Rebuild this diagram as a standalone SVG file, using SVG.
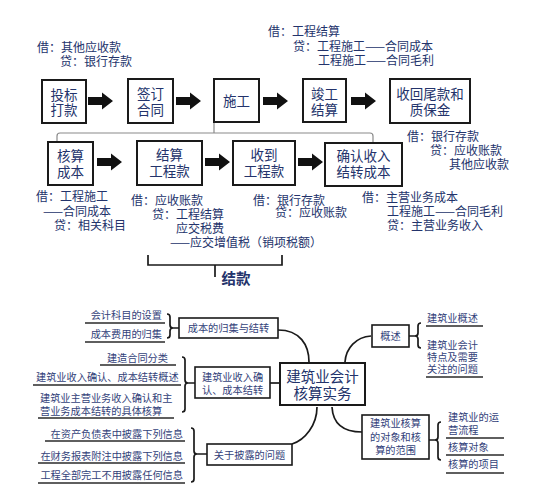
<svg xmlns="http://www.w3.org/2000/svg" width="535" height="500" viewBox="0 0 535 500">
<style>
text{font-family:"Noto Sans CJK SC","Noto Sans",sans-serif;fill:#23336b}
.bx{fill:#fff;stroke:#1a1a1a;stroke-width:2}
.bt{font-size:13.5px;text-anchor:middle}
.an{font-size:12px}
.sb{fill:#fff;stroke:#1a1a1a;stroke-width:1.6}
.s{font-size:10.2px;fill:#33427a}
.m{text-anchor:middle}
.e{text-anchor:end}
.ln{fill:none;stroke:#1a1a1a;stroke-width:1.7}
.ul{stroke:#2a2a2a;stroke-width:1.5}
.gr{fill:none;stroke:#8a8a8a;stroke-width:1.2}
</style>
<defs>
<path id="arr" d="M0,-4 H14 V-8.5 L25,0 L14,8.5 V4 H0 Z" fill="#111"/>
</defs>
<rect width="535" height="500" fill="#fff"/>

<g id="connectors">
<use href="#arr" x="88" y="101"/>
<use href="#arr" x="176" y="101"/>
<use href="#arr" x="263" y="101"/>
<use href="#arr" x="351" y="101"/>
<use href="#arr" x="97" y="162"/>
<use href="#arr" x="205" y="162"/>
<use href="#arr" x="298" y="162"/>
<path class="gr" d="M214,123 V133 M57,141 V136 Q57,133 60,133 H370 Q373,133 373,136 V142"/>
<path class="ln" d="M148,255 V265 H282 V255 M215,265 V277" stroke-width="1.8"/>
<path class="ln" d="M278,330 C300,330 309,345 309,362"/>
<path class="ln" d="M371,336 C356,337 346,348 345,362"/>
<path class="ln" d="M270,383 H280"/>
<path class="ln" d="M317,407 C317,425 305,440 292,444"/>
<path class="ln" d="M332,407 C333,425 345,432 362,432"/>
<path class="ln" d="M167,314 Q170,314 170,317 V325 Q170,328 173,328 Q170,328 170,331 V335 Q170,338 167,338 M173,328 H179"/>
<path class="ln" d="M182,357 Q185,357 185,360 V380 Q185,383 188,383 Q185,383 185,386 V409 Q185,412 182,412 M188,383 H195"/>
<path class="ln" d="M191,428 Q194,428 194,431 V451 Q194,454 197,454 Q194,454 194,457 V479 Q194,482 191,482 M197,454 H207"/>
<path class="ln" d="M441,422 Q438,422 438,425 V437 Q438,440 435,440 Q438,440 438,443 V457 Q438,460 441,460 M435,440 H426"/>
<path class="ln" d="M421,323 Q418,323 418,326 V333 Q418,336 415,336 Q418,336 418,339 V345 Q418,348 421,348 M415,336 H409"/>
</g>

<g id="ann-top">
<text class="an" font-size="12.5"><tspan x="37" y="52">借：其他应收款</tspan><tspan x="60" y="66">贷：银行存款</tspan></text>
<text class="an"><tspan x="268" y="36">借：工程结算</tspan><tspan x="293" y="51">贷：工程施工——合同成本</tspan><tspan x="318" y="65">工程施工——合同毛利</tspan></text>
<text class="an"><tspan x="407" y="141">借：银行存款</tspan><tspan x="430" y="155">贷：应收账款</tspan><tspan x="449" y="169">其他应收款</tspan></text>
<text class="an"><tspan x="36" y="201">借：工程施工</tspan><tspan x="43" y="216">——合同成本</tspan><tspan x="54" y="230">贷：相关科目</tspan></text>
<text class="an"><tspan x="131" y="205">借：应收账款</tspan><tspan x="152" y="219">贷：工程结算</tspan><tspan x="176" y="233">应交税费</tspan><tspan x="170" y="247">——应交增值税（销项税额）</tspan></text>
<text class="an"><tspan x="253" y="205">借：银行存款</tspan><tspan x="275" y="217">贷：应收账款</tspan></text>
<text class="an"><tspan x="362" y="202">借：主营业务成本</tspan><tspan x="387" y="216">工程施工——合同毛利</tspan><tspan x="387" y="230">贷：主营业务收入</tspan></text>
<text x="236" y="284" font-size="14.5" font-weight="bold" text-anchor="middle" fill="#1c2c5c">结款</text>
</g>

<g id="n-toubiao"><rect class="bx" x="42" y="80" width="44" height="43"/><text class="bt"><tspan x="64" y="100">投标</tspan><tspan x="64" y="115">打款</tspan></text></g>
<g id="n-qianding"><rect class="bx" x="128" y="79" width="45" height="44"/><text class="bt"><tspan x="150.5" y="99">签订</tspan><tspan x="150.5" y="115">合同</tspan></text></g>
<g id="n-shigong"><rect class="bx" x="214" y="79" width="45" height="43"/><text class="bt" x="236.5" y="106">施工</text></g>
<g id="n-jungong"><rect class="bx" x="303" y="79" width="43" height="43"/><text class="bt"><tspan x="324.5" y="99">竣工</tspan><tspan x="324.5" y="115">结算</tspan></text></g>
<g id="n-shouhui"><rect class="bx" x="390" y="79" width="80" height="44"/><text class="bt"><tspan x="430" y="99">收回尾款和</tspan><tspan x="430" y="115">质保金</tspan></text></g>
<g id="n-hesuan"><rect class="bx" x="48" y="142" width="45" height="43"/><text class="bt"><tspan x="70.5" y="161">核算</tspan><tspan x="70.5" y="177">成本</tspan></text></g>
<g id="n-jiesuan"><rect class="bx" x="137" y="141" width="65" height="44"/><text class="bt"><tspan x="169.5" y="160">结算</tspan><tspan x="169.5" y="176">工程款</tspan></text></g>
<g id="n-shoudao"><rect class="bx" x="233" y="141" width="62" height="44"/><text class="bt"><tspan x="264" y="160">收到</tspan><tspan x="264" y="176">工程款</tspan></text></g>
<g id="n-queren"><rect class="bx" x="325" y="143" width="77" height="43"/><text class="bt"><tspan x="363.5" y="161">确认收入</tspan><tspan x="363.5" y="177">结转成本</tspan></text></g>

<g id="n-center"><rect class="bx" x="280" y="363" width="85" height="42"/><text font-size="14.5" text-anchor="middle"><tspan x="322.5" y="382">建筑业会计</tspan><tspan x="322.5" y="399">核算实务</tspan></text></g>
<g id="n-chengben"><rect class="sb" x="179" y="318" width="99" height="20"/><text class="s m" x="228.5" y="332">成本的归集与结转</text></g>
<g id="n-gaishu"><rect class="sb" x="372" y="325" width="37" height="22"/><text class="s m" x="390.5" y="340">概述</text></g>
<g id="n-shouru"><rect class="sb" x="195" y="367" width="75" height="31"/><text class="s"><tspan x="202" y="381">建筑业收入确</tspan><tspan x="202" y="394">认、成本结转</tspan></text></g>
<g id="n-pilu"><rect class="sb" x="207" y="444" width="85" height="21"/><text class="s m" x="249.5" y="458.5">关于披露的问题</text></g>
<g id="n-duixiang"><rect class="sb" x="362" y="415" width="67" height="44"/><text class="s m"><tspan x="395.5" y="427">建筑业核算</tspan><tspan x="395.5" y="441">的对象和核</tspan><tspan x="395.5" y="454">算的范围</tspan></text></g>

<g id="leaves-chengben">
<text class="s e" x="162" y="318.5">会计科目的设置</text><line class="ul" x1="85" y1="323" x2="165" y2="323"/>
<text class="s e" x="162" y="338">成本费用的归集</text><line class="ul" x1="85" y1="342" x2="165" y2="342"/>
</g>
<g id="leaves-shouru">
<text class="s e" x="168" y="362">建造合同分类</text><line class="ul" x1="100" y1="365" x2="176" y2="365"/>
<text class="s" x="36" y="381">建筑业收入确认、成本结转概述</text><line class="ul" x1="33" y1="385" x2="181" y2="385"/>
<text class="s"><tspan x="40" y="402">建筑业主营业务收入确认和主</tspan><tspan x="40" y="415">营业务成本结转的具体核算</tspan></text><line class="ul" x1="38" y1="418" x2="174" y2="418"/>
</g>
<g id="leaves-pilu">
<text class="s e" x="183" y="438">在资产负债表中披露下列信息</text><line class="ul" x1="45" y1="441" x2="185" y2="441"/>
<text class="s e" x="183" y="460">在财务报表附注中披露下列信息</text><line class="ul" x1="38" y1="463" x2="185" y2="463"/>
<text class="s e" x="183" y="479">工程全部完工不用披露任何信息</text><line class="ul" x1="38" y1="483" x2="185" y2="483"/>
</g>
<g id="leaves-gaishu">
<text class="s" x="427" y="322">建筑业概述</text><line class="ul" x1="426" y1="326" x2="483" y2="326"/>
<text class="s"><tspan x="427" y="349">建筑业会计</tspan><tspan x="427" y="361">特点及需要</tspan><tspan x="427" y="373">关注的问题</tspan></text><line class="ul" x1="426" y1="377" x2="483" y2="377"/>
</g>
<g id="leaves-duixiang">
<text class="s"><tspan x="448" y="421">建筑业的运</tspan><tspan x="448" y="434">营流程</tspan></text><line class="ul" x1="446" y1="438" x2="504" y2="438"/>
<text class="s" x="448" y="451">核算对象</text><line class="ul" x1="446" y1="455" x2="504" y2="455"/>
<text class="s" x="448" y="468">核算的项目</text><line class="ul" x1="446" y1="473" x2="504" y2="473"/>
</g>
</svg>
